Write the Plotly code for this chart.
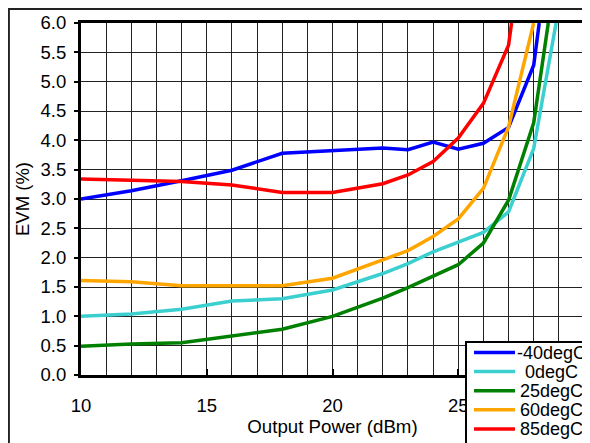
import plotly.graph_objects as go

x_m40 = [10, 12, 14, 16, 18, 20, 22, 23, 24, 25, 26, 27, 28, 28.22]
evm_m40 = [3.00, 3.14, 3.31, 3.49, 3.78, 3.83, 3.87, 3.84, 3.97, 3.85, 3.95, 4.22, 5.28, 6.00]

x_0 = [10, 12, 14, 16, 18, 20, 22, 23, 24, 25, 26, 27, 28, 28.89]
evm_0 = [1.00, 1.04, 1.12, 1.26, 1.30, 1.45, 1.73, 1.90, 2.10, 2.27, 2.43, 2.78, 3.86, 6.00]

x_25 = [10, 12, 14, 16, 18, 20, 22, 23, 24, 25, 26, 27, 28, 28.58]
evm_25 = [0.49, 0.53, 0.55, 0.66, 0.78, 1.00, 1.31, 1.49, 1.69, 1.88, 2.25, 2.98, 4.30, 6.00]

x_60 = [10, 12, 14, 16, 18, 20, 22, 23, 24, 25, 26, 27, 28]
evm_60 = [1.61, 1.59, 1.52, 1.52, 1.52, 1.65, 1.96, 2.12, 2.36, 2.66, 3.18, 4.23, 6.00]

x_85 = [10, 12, 14, 16, 18, 20, 22, 23, 24, 25, 26, 27, 27.12]
evm_85 = [3.34, 3.32, 3.30, 3.24, 3.11, 3.11, 3.26, 3.41, 3.64, 4.04, 4.63, 5.62, 6.00]

x_ticks = [10, 15, 20, 25]
names = ["-40degC", "0degC", "25degC", "60degC", "85degC"]
colors = ["#0000FF", "#3CCFCF", "#008000", "#FFA500", "#FF0000"]
xs = [x_m40, x_0, x_25, x_60, x_85]
ys = [evm_m40, evm_0, evm_25, evm_60, evm_85]

FONT = "Liberation Sans, Arial, sans-serif"
FS = 18.5
FS_LEG = 18

fig = go.Figure()
for name, col, xv, yv in zip(names, colors, xs, ys):
    fig.add_trace(go.Scatter(x=xv, y=yv, mode="lines", name=name,
                             line=dict(color=col, width=3.5), showlegend=False))

# page body has an 8px margin: figure pixel = screen pixel - 8
OFF = 8
W, H = 590 - OFF, 443 - OFF
L, T = 81 - OFF, 23 - OFF
R = W - (584 - OFF)
B = H - (375 - OFF)
pw, ph = W - L - R, H - T - B

def px2paper_x(px):
    return (px - OFF - L) / pw

def px2paper_y(py):
    return (H - B - (py - OFF)) / ph

shapes = [dict(type="rect", xref="paper", yref="paper",
               x0=px2paper_x(8.8), y0=px2paper_y(470),
               x1=px2paper_x(610), y1=px2paper_y(8.8),
               line=dict(color="#222", width=2.2), layer="below")]

# manual legend (box, line samples, labels)
shapes.append(dict(type="rect", xref="paper", yref="paper",
                   x0=px2paper_x(466), y0=px2paper_y(470),
                   x1=px2paper_x(610), y1=px2paper_y(342),
                   fillcolor="white", line=dict(color="black", width=2), layer="above"))
annotations = []
row0, rowstep = 352.5, 19.1
for i, (name, col) in enumerate(zip(names, colors)):
    yc = row0 + i * rowstep
    shapes.append(dict(type="line", xref="paper", yref="paper",
                       x0=px2paper_x(474), x1=px2paper_x(515),
                       y0=px2paper_y(yc), y1=px2paper_y(yc),
                       line=dict(color=col, width=3.5), layer="above"))
    annotations.append(dict(xref="paper", yref="paper",
                            x=px2paper_x(551), y=px2paper_y(yc + 0.5),
                            xanchor="center", yanchor="middle", showarrow=False,
                            text=name, font=dict(family=FONT, size=FS_LEG, color="black")))

fig.update_layout(
    width=W, height=H,
    margin=dict(l=L, r=R, t=T, b=B, autoexpand=False),
    paper_bgcolor="white", plot_bgcolor="white",
    font=dict(family=FONT, size=FS, color="black"),
    showlegend=False,
    xaxis=dict(
        range=[10, 30], tickvals=x_ticks,
        ticks="inside", ticklen=6, tickwidth=1.5, tickcolor="black",
        showgrid=True, gridcolor="#222", gridwidth=1,
        minor=dict(dtick=1, tick0=10, showgrid=True, gridcolor="#222", gridwidth=1),
        showline=True, linecolor="black", linewidth=3, mirror=True,
        zeroline=False, ticklabelstandoff=12, automargin=False,
        tickfont=dict(family=FONT, size=FS),
        title=dict(text="Output Power (dBm)", standoff=5,
                   font=dict(family=FONT, size=18.7)),
    ),
    yaxis=dict(
        range=[0, 6], dtick=0.5, tick0=0, tickformat=".1f",
        ticks="outside", ticklen=4, tickwidth=1.5, tickcolor="black",
        showgrid=True, gridcolor="#222", gridwidth=1,
        showline=True, linecolor="black", linewidth=3, mirror=True,
        zeroline=False, ticklabelstandoff=4, automargin=False,
        tickfont=dict(family=FONT, size=FS),
        title=dict(text="EVM (%)", standoff=7,
                   font=dict(family=FONT, size=FS)),
    ),
    shapes=shapes,
    annotations=annotations,
)

fig.write_html("out.html")
